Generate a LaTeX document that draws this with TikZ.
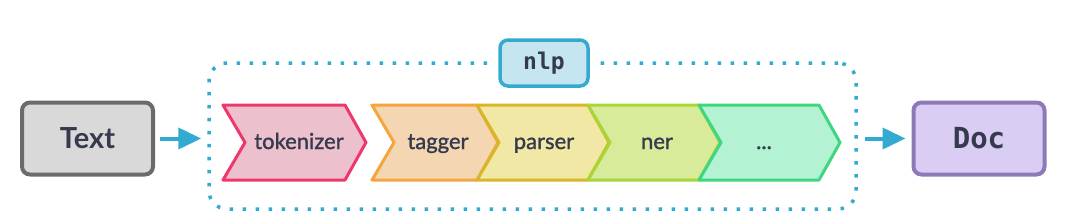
\documentclass[tikz,border=0pt]{standalone}
\usepackage{fontspec}
\setmainfont{Lato}
\newfontfamily\codefont{DejaVu Sans Mono}
\newfontfamily\labelfont[FakeBold=1.3]{Lato}
\usetikzlibrary{arrows.meta}
\definecolor{inkc}{HTML}{353B4D}
\definecolor{arrowc}{HTML}{33AACF}
\definecolor{txtfill}{HTML}{D9D9D9}
\definecolor{txtdraw}{HTML}{6B6B6B}
\definecolor{docfill}{HTML}{D9CDF4}
\definecolor{docdraw}{HTML}{8E79B8}
\definecolor{nlpfill}{HTML}{C5E6F1}
\definecolor{tokfill}{HTML}{ECC1CD}
\definecolor{tokdraw}{HTML}{F0376A}
\definecolor{tagfill}{HTML}{F5D6B3}
\definecolor{tagdraw}{HTML}{F4A53D}
\definecolor{parfill}{HTML}{F2E8A6}
\definecolor{pardraw}{HTML}{D7B62A}
\definecolor{nerfill}{HTML}{D8EB9A}
\definecolor{nerdraw}{HTML}{A9D636}
\definecolor{dotfill}{HTML}{B4F2D4}
\definecolor{dotdraw}{HTML}{3ED77F}
\newcommand{\mychev}[4]{%
  \filldraw[chevbox, fill=#3, draw=#4]
    (#1,105) -- (#2,105) -- (#2+21,142.5) -- (#2,180) -- (#1,180) -- (#1+22,142.5) -- cycle;}
\begin{document}
\begin{tikzpicture}[x=1pt,y=-1pt,
  endbox/.style={rectangle, rounded corners=8pt, line width=4pt, text=inkc,
    minimum width=131pt, minimum height=72pt, inner sep=0pt},
  chevbox/.style={line width=3pt, line join=round},
  chevlabel/.style={anchor=base, text=inkc, font=\labelfont\fontsize{22}{24}\selectfont, inner sep=0pt},
  flow/.style={draw=arrowc, line width=4pt, -{Triangle[length=23pt,width=21pt]}}
]
\useasboundingbox (0,0) rectangle (1080,223);

% dotted pipeline box
\node[draw=arrowc, line width=3.5pt, dash pattern=on 3.5pt off 9.5pt,
      rounded corners=18pt, minimum width=647pt, minimum height=146pt,
      inner sep=0pt] (pipe) at (532.5,136) {};

% nlp label
\node[draw=arrowc, fill=nlpfill, line width=3.5pt, rounded corners=8pt,
      preaction={draw=white, line width=14pt},
      minimum width=88pt, minimum height=46pt, inner sep=0pt, text=inkc,
      font=\codefont\bfseries\fontsize{23}{25}\selectfont] (nlp) at (544,63) {nlp};

% end boxes
\node[endbox, fill=txtfill, draw=txtdraw, font=\bfseries\fontsize{29}{32}\selectfont]
  (txt) at (87.5,138.5) {Text};
\node[endbox, fill=docfill, draw=docdraw, font=\codefont\bfseries\fontsize{29}{32}\selectfont]
  (doc) at (979,138.5) {Doc};

% chevrons
\mychev{223}{345}{tokfill}{tokdraw}
\mychev{372}{477}{tagfill}{tagdraw}
\mychev{477}{588}{parfill}{pardraw}
\mychev{588}{699}{nerfill}{nerdraw}
\mychev{699}{819}{dotfill}{dotdraw}

\node[chevlabel] (tok) at (299,149) {tokenizer};
\node[chevlabel] (tag) at (438,149) {tagger};
\node[chevlabel] (par) at (544,149) {parser};
\node[chevlabel] (ner) at (657,149) {ner};
\node[chevlabel] (etc) at (764,149) {...};

% connectors
\draw[flow, shorten <=5pt, shorten >=6pt] (txt.east) -- (txt.east -| pipe.west);
\draw[flow, shorten <=7pt, shorten >=6pt] (pipe.east |- doc.west) -- (doc.west);
\end{tikzpicture}
\end{document}
